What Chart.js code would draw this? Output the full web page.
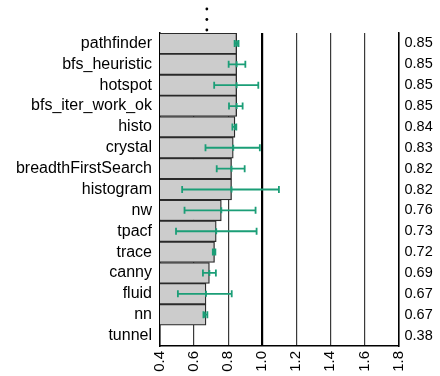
<!DOCTYPE html>
<html>
<head>
<meta charset="utf-8">
<script src="https://cdn.jsdelivr.net/npm/chart.js@4/dist/chart.umd.min.js"></script>
<style>
  html, body { margin: 0; padding: 0; background: #fff; }
  #wrap { width: 440px; height: 376px; }
</style>
</head>
<body>
<div id="wrap"><canvas id="chart"></canvas></div>
<script>
// --- data ---
const benchmarks = ['pathfinder', 'bfs_heuristic', 'hotspot', 'bfs_iter_work_ok', 'histo', 'crystal',
  'breadthFirstSearch', 'histogram', 'nw', 'tpacf', 'trace', 'canny', 'fluid', 'nn', 'tunnel'];
const speedup = [0.85, 0.85, 0.85, 0.85, 0.84, 0.83, 0.82, 0.82, 0.76, 0.73, 0.72, 0.69, 0.67, 0.67, 0.38];
const errLow  = [0.838, 0.803, 0.718, 0.805, 0.825, 0.667, 0.733, 0.530, 0.544, 0.494, 0.710, 0.652, 0.505, 0.655, null];
const errHigh = [0.861, 0.901, 0.977, 0.885, 0.848, 0.986, 0.897, 1.098, 0.961, 0.967, 0.725, 0.728, 0.821, 0.678, null];
const errMid  = [0.85, 0.85, 0.85, 0.85, 0.84, 0.83, 0.82, 0.82, 0.76, 0.73, 0.717, 0.69, 0.67, 0.663, null];
const valueLabels = speedup.map(v => v.toFixed(2));
const geoMeanMark = 0.675;

const FONT = 'Liberation Sans, Arial, sans-serif';
const GREEN = '#1b9e77';

// error bars + dotted marker above the plot
const errorBars = {
  id: 'errorBars',
  afterDraw(chart) {
    const { ctx, scales: { x } } = chart;
    const meta = chart.getDatasetMeta(0);
    ctx.save();
    ctx.strokeStyle = GREEN;
    ctx.lineWidth = 1.8;
    meta.data.forEach((bar, i) => {
      if (errLow[i] == null) return;
      const y = bar.y;
      const x0 = x.getPixelForValue(errLow[i]);
      const x1 = x.getPixelForValue(errHigh[i]);
      const xm = x.getPixelForValue(errMid[i]);
      ctx.beginPath();
      ctx.moveTo(x0, y); ctx.lineTo(x1, y);
      ctx.moveTo(x0, y - 3.5); ctx.lineTo(x0, y + 3.5);
      ctx.moveTo(x1, y - 3.5); ctx.lineTo(x1, y + 3.5);
      ctx.moveTo(xm, y - 3); ctx.lineTo(xm, y + 3);
      ctx.stroke();
    });
    // vertical dots above the plot
    ctx.fillStyle = '#000';
    const gx = x.getPixelForValue(geoMeanMark);
    [9, 19.5, 30].forEach(dy => {
      ctx.beginPath();
      ctx.arc(gx, dy, 1.4, 0, Math.PI * 2);
      ctx.fill();
    });
    ctx.restore();
  }
};

new Chart(document.getElementById('chart'), {
  type: 'bar',
  data: {
    labels: benchmarks,
    datasets: [{
      data: speedup,
      backgroundColor: '#cccccc',
      borderColor: '#2a2a2a',
      borderWidth: 1.3,
      categoryPercentage: 1,
      barPercentage: 1,
      yAxisID: 'y',
    }],
  },
  options: {
    indexAxis: 'y',
    responsive: true,
    maintainAspectRatio: false,
    animation: false,
    layout: { padding: { top: 33, right: 0, left: 0, bottom: 0 } },
    plugins: { legend: { display: false }, tooltip: { enabled: false } },
    scales: {
      x: {
        type: 'linear',
        min: 0.4,
        max: 1.8,
        z: 1,
        afterFit: s => { s.height = 30; },
        ticks: {
          stepSize: 0.2,
          minRotation: 90,
          maxRotation: 90,
          padding: 5,
          color: '#000',
          font: { family: FONT, size: 15 },
          callback: v => v.toFixed(1),
        },
        grid: {
          drawTicks: false,
          color: c => (Math.abs(c.tick.value - 1) < 1e-6 || Math.abs(c.tick.value - 1.8) < 1e-6) ? '#000' : '#3a3a3a',
          lineWidth: c => Math.abs(c.tick.value - 1) < 1e-6 ? 2.2 : 1.2,
        },
        border: { color: '#000', width: 1.5 },
      },
      y: {
        type: 'category',
        position: 'left',
        afterFit: s => { s.width = 160; },
        ticks: { color: '#000', padding: 8, autoSkip: false, font: { family: FONT, size: 16 } },
        grid: { display: false, drawTicks: false },
        border: { color: '#000', width: 1.5 },
      },
      yr: {
        type: 'category',
        position: 'right',
        labels: valueLabels,
        offset: true,
        afterFit: s => { s.width = 41.5; },
        ticks: { color: '#000', padding: 6, autoSkip: false, font: { family: FONT, size: 14.5 } },
        grid: { display: false, drawTicks: false },
        border: { color: '#000', width: 1.5 },
      },
    },
  },
  plugins: [errorBars],
});
</script>
</body>
</html>
